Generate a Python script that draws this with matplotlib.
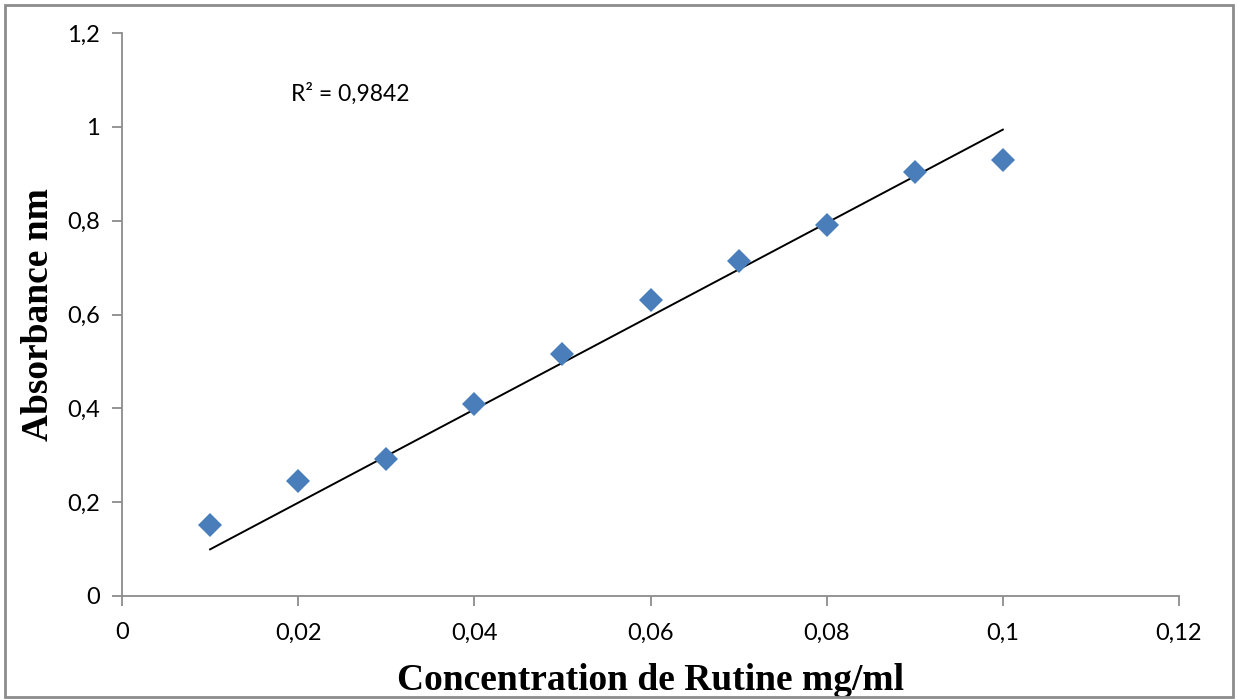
import matplotlib.pyplot as plt
import numpy as np

# Data
concentration = np.array([0.01, 0.02, 0.03, 0.04, 0.05, 0.06, 0.07, 0.08, 0.09, 0.10])
absorbance = np.array([0.151, 0.245, 0.292, 0.409, 0.516, 0.631, 0.714, 0.791, 0.904, 0.929])
r2_label = "R² = 0,9842"
x_ticks = [0, 0.02, 0.04, 0.06, 0.08, 0.1, 0.12]
x_tick_labels = ["0", "0,02", "0,04", "0,06", "0,08", "0,1", "0,12"]
y_ticks = [0, 0.2, 0.4, 0.6, 0.8, 1, 1.2]
y_tick_labels = ["0", "0,2", "0,4", "0,6", "0,8", "1", "1,2"]

# linear trendline forced through origin (Excel style)
slope = np.sum(concentration * absorbance) / np.sum(concentration ** 2)

fig = plt.figure(figsize=(12.38, 7), dpi=100)
ax = fig.add_axes([122 / 1238, 1 - 596 / 700, (1179 - 122) / 1238, (596 - 33) / 700])

# outer chart border
fig.patches.append(plt.Rectangle((5 / 1238, 3 / 700), 1228 / 1238, 692 / 700,
                                 transform=fig.transFigure, fill=False,
                                 edgecolor="#8c8c8c", linewidth=2))

ax.plot(concentration, slope * concentration, color="black", linewidth=1.4, zorder=2)
ax.plot(concentration, absorbance, linestyle="none", marker="D", markersize=12,
        color="#4a7ebb", markeredgewidth=0, zorder=3)

ax.set_xlim(0, 0.12)
ax.set_ylim(0, 1.2)
ax.set_xticks(x_ticks)
ax.set_xticklabels(x_tick_labels)
ax.set_yticks(y_ticks)
ax.set_yticklabels(y_tick_labels)

for side in ["top", "right"]:
    ax.spines[side].set_visible(False)
for side in ["left", "bottom"]:
    ax.spines[side].set_color("#8c8c8c")
    ax.spines[side].set_linewidth(1.3)

ax.tick_params(axis="both", direction="out", length=7, width=1.3, color="#8c8c8c",
               labelsize=17, pad=9)
ax.tick_params(axis="x", pad=12)
for lbl in ax.get_xticklabels() + ax.get_yticklabels():
    lbl.set_fontfamily("Lato")

ax.set_xlabel("Concentration de Rutine mg/ml", fontsize=27, fontweight="bold",
              fontfamily="Liberation Serif", labelpad=14)
ax.set_ylabel("Absorbance nm", fontsize=27, fontweight="bold",
              fontfamily="Liberation Serif", labelpad=8)

ax.text(0.0192, 1.07, r2_label, fontsize=16.5, fontfamily="Lato", va="center")

fig.savefig("out.png", dpi=100)
